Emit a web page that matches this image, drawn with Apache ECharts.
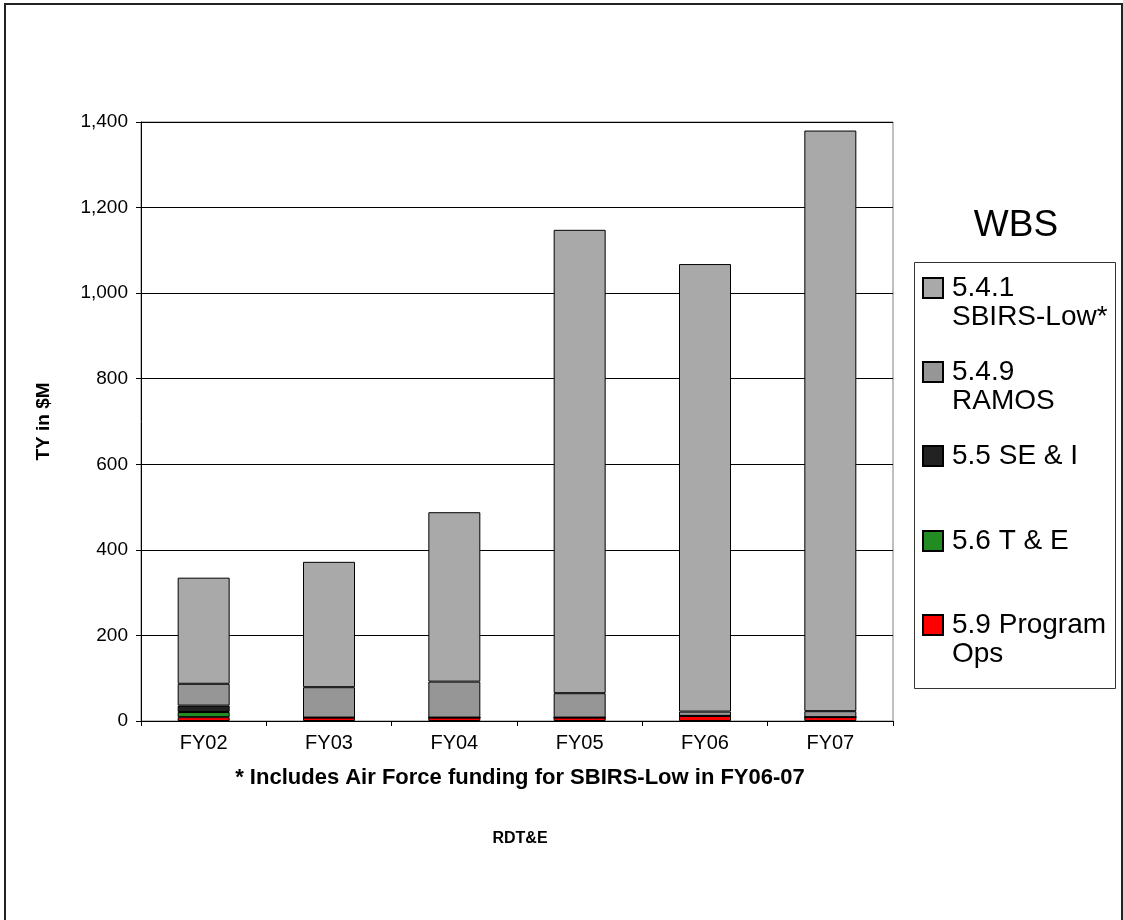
<!DOCTYPE html>
<html>
<head>
<meta charset="utf-8">
<script src="https://cdn.jsdelivr.net/npm/echarts@6/dist/echarts.min.js"></script>
<style>
html,body{margin:0;padding:0;background:#fff;}
#chart{width:1123px;height:920px;}
</style>
</head>
<body>
<div id="chart"></div>
<script>
const categories = ['FY02','FY03','FY04','FY05','FY06','FY07'];
const programOps = [9, 8, 8, 8, 12, 9];
const testEval   = [12, 0, 0, 0, 0, 0];
const seAndI     = [15, 0, 0, 0, 0, 0];
const ramos      = [51, 71, 84, 57, 10, 14];
const sbirsLow   = [248, 293, 396, 1083, 1046, 1357];
const yTicks = [0, 200, 400, 600, 800, 1000, 1200, 1400];

const names = ['5.4.1\nSBIRS-Low*', '5.4.9\nRAMOS', '5.5 SE & I', '5.6 T & E', '5.9 Program\nOps'];
const colors = ['#a9a9a9', '#969696', '#222222', '#228b22', '#ff0000'];
const seriesData = [sbirsLow, ramos, seAndI, testEval, programOps];

const FONT = '"Liberation Sans", Arial, sans-serif';

const chart = echarts.init(document.getElementById('chart'), null, {renderer: 'canvas'});

// stack order bottom -> top
const order = [4, 3, 2, 1, 0];
const series = order.map(i => ({
  name: names[i],
  type: 'bar',
  stack: 'total',
  barWidth: 52,
  data: seriesData[i],
  itemStyle: {color: colors[i], borderColor: '#000', borderWidth: 1},
  emphasis: {disabled: true},
  animation: false
}));

const LH = 29;
const iconCenters = [288, 372, 456, 541, 625];
const legends = names.map((n, i) => {
  const twoLine = n.indexOf('\n') >= 0;
  return {
    show: true,
    orient: 'vertical',
    left: 922,
    top: twoLine ? iconCenters[i] - LH * 1.5 : iconCenters[i] - LH / 2,
    padding: 0,
    itemWidth: 20,
    itemHeight: 20,
    selectedMode: false,
    data: [{name: n, icon: 'rect'}],
    formatter: nm => (nm.indexOf('\n') >= 0 ? '\n' + nm : nm),
    textStyle: {
      fontFamily: FONT, fontSize: 28, lineHeight: LH, color: '#000',
      padding: [0, 0, 0, 4]
    }
  };
});

chart.setOption({
  backgroundColor: '#fff',
  animation: false,
  textStyle: {fontFamily: FONT},
  title: [
    {text: 'WBS', left: 1011, top: 202, textAlign: 'center',
     textStyle: {fontFamily: FONT, fontSize: 37, fontWeight: 'normal', color: '#000'}},
    {text: '* Includes Air Force funding for SBIRS-Low in FY06-07', left: 515, top: 762, textAlign: 'center',
     textStyle: {fontFamily: FONT, fontSize: 22, fontWeight: 'bold', color: '#000'}},
    {text: 'RDT&E', left: 515, top: 826, textAlign: 'center',
     textStyle: {fontFamily: FONT, fontSize: 16, fontWeight: 'bold', color: '#000'}}
  ],
  legend: legends,
  grid: {left: 141, top: 122, width: 752, height: 599, show: true, borderColor: '#808080', borderWidth: 1, containLabel: false},
  xAxis: {
    type: 'category',
    data: categories,
    boundaryGap: true,
    axisLine: {lineStyle: {color: '#000', width: 1}},
    axisTick: {show: true, inside: false, length: 5, alignWithLabel: false, lineStyle: {color: '#000'}},
    axisLabel: {fontFamily: FONT, fontSize: 20, color: '#000', margin: 12}
  },
  yAxis: {
    type: 'value',
    min: yTicks[0],
    max: yTicks[yTicks.length - 1],
    interval: yTicks[1] - yTicks[0],
    name: 'TY in $M',
    nameLocation: 'middle',
    nameRotate: 90,
    nameGap: 88,
    nameTextStyle: {fontFamily: FONT, fontSize: 19, fontWeight: 'bold', color: '#000'},
    axisLine: {show: true, lineStyle: {color: '#000', width: 1}},
    axisTick: {show: true, inside: false, length: 5, lineStyle: {color: '#000'}},
    axisLabel: {fontFamily: FONT, fontSize: 19, color: '#000', margin: 13,
      formatter: v => v.toLocaleString('en-US')},
    splitLine: {show: true, lineStyle: {color: '#000', width: 1}}
  },
  graphic: [
    {type: 'rect', shape: {x: 5, y: 4, width: 1117, height: 940},
     style: {fill: null, stroke: '#222', lineWidth: 2}, silent: true, z: 100},
    {type: 'rect', shape: {x: 914.5, y: 262.5, width: 201, height: 426},
     style: {fill: null, stroke: '#333', lineWidth: 1}, silent: true, z: 100}
  ],
  series: series
});
</script>
</body>
</html>
